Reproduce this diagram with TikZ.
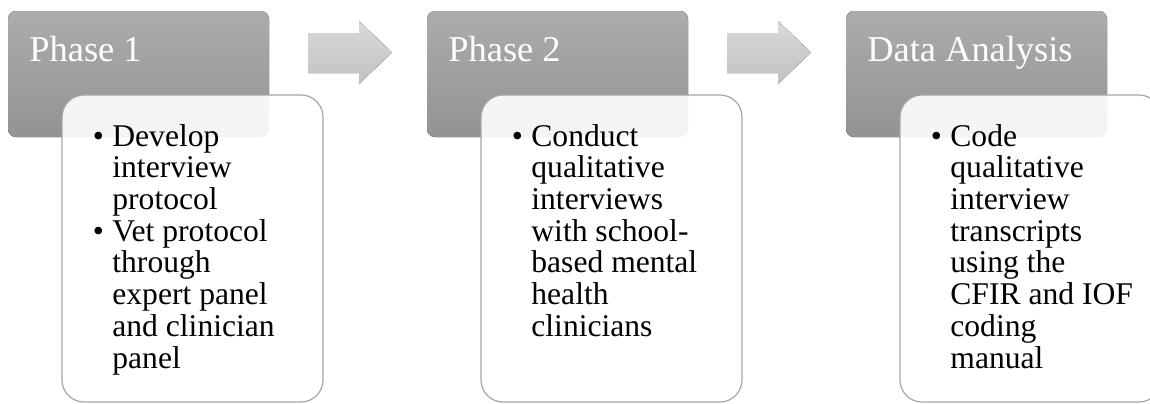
\documentclass[tikz,border=0pt]{standalone}
\usepackage{fontspec}
\setmainfont{Liberation Serif}
\usepackage{tikz}
\usetikzlibrary{positioning}

\definecolor{headtop}{HTML}{ACACAC}
\definecolor{headbot}{HTML}{939393}
\definecolor{arrowtop}{HTML}{D9D9D9}
\definecolor{arrowbot}{HTML}{C2C2C2}
\definecolor{boxline}{HTML}{A6A6A6}

\newcommand{\itm}{\llap{\textbullet\hspace{4.2pt}}}

\begin{document}
\begin{tikzpicture}[x=0.5pt, y=-0.5pt,
    phasebox/.style={top color=headtop, bottom color=headbot, rounded corners=4pt},
    taskbox/.style={draw=boxline, line width=0.6pt, fill=white, fill opacity=0.9, rounded corners=11pt},
    steparrow/.style={top color=arrowtop, bottom color=arrowbot},
    phasetext/.style={anchor=base west, inner sep=0pt, text=white, font=\fontsize{18.2}{20}\selectfont},
    tasktext/.style={anchor=base west, inner sep=0pt, align=left, font=\fontsize{15.8}{15.85}\selectfont}]
    \useasboundingbox (0,0) rectangle (1150,403);
    \clip (0,0) rectangle (1150,403);
    \fill[white] (0,0) rectangle (1150,403);

    % phase headers
    \fill[phasebox] (8,11) rectangle (269,137);
    \fill[phasebox] (427,11) rectangle (688,137);
    \fill[phasebox] (846,11) rectangle (1107,137);

    % arrows between phases
    \fill[steparrow] (308,33) -- (359,33) -- (359,21) -- (392,52.5) -- (359,84) -- (359,73) -- (308,73) -- cycle;
    \fill[steparrow] (727,33) -- (778,33) -- (778,21) -- (811,52.5) -- (778,84) -- (778,73) -- (727,73) -- cycle;

    % task boxes
    \draw[taskbox] (62,95) rectangle (323,402);
    \draw[taskbox] (481,95) rectangle (742,402);
    \draw[taskbox] (900,95) rectangle (1161,402);

    \node[phasetext] (phase1) at (29,61) {Phase 1};
    \node[phasetext] (phase2) at (448,61) {Phase 2};
    \node[phasetext] (analysis) at (867,61) {Data Analysis};

    % anchored at the baseline of the last line
    \node[tasktext] (tasks1) at (112,368) {\itm Develop\\ interview\\ protocol\\ \itm Vet protocol\\ through\\ expert panel\\ and clinician\\ panel};
    \node[tasktext] (tasks2) at (531,336.2) {\itm Conduct\\ qualitative\\ interviews\\ with school-\\ based mental\\ health\\ clinicians};
    \node[tasktext] (tasks3) at (950,368) {\itm Code\\ qualitative\\ interview\\ transcripts\\ using the\\ CFIR and IOF\\ coding\\ manual};
\end{tikzpicture}
\end{document}
